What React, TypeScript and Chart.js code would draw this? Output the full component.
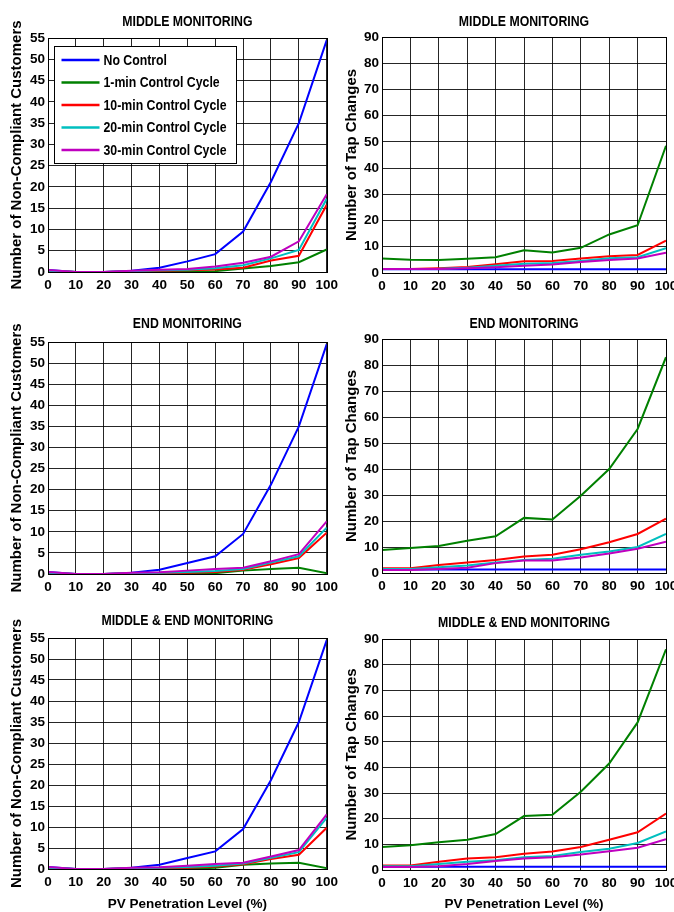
import React, { useEffect, useRef } from 'react';
import { Chart, registerables } from 'chart.js';

Chart.register(...registerables);

// ---------------- DATA ----------------
const penetration = [0, 10, 20, 30, 40, 50, 60, 70, 80, 90, 100];
const seriesLabels = ['No Control', '1-min Control Cycle', '10-min Control Cycle', '20-min Control Cycle', '30-min Control Cycle'];
const seriesColors = ['#0000ff', '#008000', '#ff0000', '#00bfbf', '#bf00bf'];

const panelTitles = ['MIDDLE MONITORING', 'MIDDLE MONITORING', 'END MONITORING', 'END MONITORING', 'MIDDLE & END MONITORING', 'MIDDLE & END MONITORING'];
const yTitleCustomers = 'Number of Non-Compliant Customers';
const yTitleTaps = 'Number of Tap Changes';
const xTitle = 'PV Penetration Level (%)';

// Middle monitoring - non-compliant customers
const midNcNoControl = [0.5, 0, 0, 0.3, 1.0, 2.5, 4.2, 9.5, 21.2, 35, 54.5];
const midNc1min = [0.2, 0, 0, 0, 0, 0, 0.2, 0.8, 1.4, 2.3, 5.3];
const midNc10min = [0.3, 0, 0, 0.2, 0.3, 0.4, 0.6, 1.0, 2.7, 3.8, 15.8];
const midNc20min = [0.3, 0, 0, 0.2, 0.4, 0.5, 0.9, 1.6, 3.2, 5.2, 17.2];
const midNc30min = [0.5, 0, 0, 0.3, 0.5, 0.7, 1.3, 2.2, 3.6, 7.2, 18.3];

// Middle monitoring - tap changes
const midTapNoControl = [1.4, 1.4, 1.4, 1.4, 1.4, 1.4, 1.4, 1.4, 1.4, 1.4, 1.4];
const midTap1min = [5.5, 5.1, 5.0, 5.4, 6.0, 8.7, 7.8, 9.6, 14.7, 18.2, 48.5];
const midTap10min = [1.5, 1.5, 1.8, 2.3, 3.3, 4.5, 4.6, 5.5, 6.4, 6.9, 12.3];
const midTap20min = [1.5, 1.5, 1.6, 2.0, 2.8, 3.5, 3.8, 4.6, 5.6, 6.0, 9.5];
const midTap30min = [1.5, 1.5, 1.5, 1.8, 2.2, 2.8, 3.2, 4.2, 5.0, 5.5, 7.7];

// End monitoring - non-compliant customers
const endNcNoControl = [0.5, 0, 0, 0.3, 1.0, 2.6, 4.2, 9.5, 21.2, 35, 54.5];
const endNc1min = [0, 0, 0, 0, 0, 0, 0.2, 0.8, 1.2, 1.5, 0.2];
const endNc10min = [0.2, 0, 0, 0.2, 0.2, 0.3, 0.5, 1.0, 2.3, 3.8, 9.8];
const endNc20min = [0.3, 0, 0, 0.2, 0.3, 0.5, 0.7, 1.2, 2.7, 4.2, 11];
const endNc30min = [0.5, 0, 0, 0.3, 0.4, 0.8, 1.2, 1.5, 3.0, 4.7, 12.5];

// End monitoring - tap changes
const endTapNoControl = [1.3, 1.3, 1.3, 1.3, 1.3, 1.3, 1.3, 1.3, 1.3, 1.3, 1.3];
const endTap1min = [8.8, 9.6, 10.4, 12.4, 14.1, 21.2, 20.6, 29.7, 40, 55.4, 83];
const endTap10min = [1.8, 1.8, 3.1, 4.0, 5.0, 6.3, 7.0, 9.1, 11.8, 15.0, 20.9];
const endTap20min = [1.5, 1.5, 2.2, 2.9, 4.0, 5.0, 5.5, 7.0, 8.3, 10.0, 15.0];
const endTap30min = [1.2, 1.2, 1.5, 2.0, 3.8, 4.8, 4.8, 6.0, 7.5, 9.3, 12.0];

// Middle & End monitoring - non-compliant customers
const bothNcNoControl = [0.5, 0, 0, 0.3, 1.0, 2.6, 4.2, 9.5, 21.2, 35, 54.5];
const bothNc1min = [0.2, 0, 0, 0, 0, 0, 0.3, 1.0, 1.3, 1.5, 0.2];
const bothNc10min = [0, 0, 0, 0.2, 0.2, 0.3, 0.6, 1.1, 2.4, 3.4, 9.8];
const bothNc20min = [0.3, 0, 0, 0.2, 0.3, 0.5, 0.8, 1.3, 2.7, 4.0, 12.2];
const bothNc30min = [0.5, 0, 0, 0.3, 0.4, 0.8, 1.2, 1.5, 3.0, 4.5, 13];

// Middle & End monitoring - tap changes
const bothTapNoControl = [1.3, 1.3, 1.3, 1.3, 1.3, 1.3, 1.3, 1.3, 1.3, 1.3, 1.3];
const bothTap1min = [9.0, 9.6, 10.8, 11.8, 14.0, 21.0, 21.5, 30.5, 41.5, 57.5, 86];
const bothTap10min = [1.8, 1.8, 3.2, 4.5, 5.0, 6.3, 7.2, 9.0, 11.8, 14.7, 22];
const bothTap20min = [1.5, 1.5, 2.3, 3.2, 3.8, 5.0, 5.5, 7.0, 8.3, 10.5, 15];
const bothTap30min = [1.2, 1.2, 1.5, 2.3, 3.5, 4.5, 5.0, 6.0, 7.3, 8.7, 12];

const customersAxisMax = 55;
const customersAxisStep = 5;
const tapsAxisMax = 90;
const tapsAxisStep = 10;

// ---------------- STYLE ----------------
const FONT = "'Liberation Sans', Arial, sans-serif";
const NARROW_SCALE = 0.82;

type PanelSpec = {
  left: number; top: number; width: number; height: number;
  padL: number; padT: number; padR: number;
  yWidth: number; xHeight: number;
  title: string; titleBaseline: number;
  yTitle: string; yTitlePad: number;
  yMax: number; yStep: number;
  series: number[][];
  legend: boolean; xTitle: boolean;
};

function narrowText(ctx: any, text: string, x: number, y: number, align: string, baseline: string) {
  ctx.save();
  ctx.translate(x, y);
  ctx.scale(NARROW_SCALE, 1);
  ctx.textAlign = align;
  ctx.textBaseline = baseline;
  ctx.fillText(text, 0, 0);
  ctx.restore();
}

const panelDecor = {
  id: 'panelDecor',
  afterDatasetsDraw(chart: any, _args: any, opts: any) {
    if (!opts.legend) return;
    const { ctx, chartArea: a } = chart;
    const bx = Math.round(a.left + 6) + 0.5;
    const by = Math.round(a.top + 8) + 0.5;
    const bw = 182;
    const bh = 117;
    ctx.save();
    ctx.fillStyle = '#ffffff';
    ctx.fillRect(bx, by, bw, bh);
    ctx.strokeStyle = '#000000';
    ctx.lineWidth = 1;
    ctx.strokeRect(bx, by, bw, bh);
    ctx.font = `bold 15px ${FONT}`;
    chart.data.datasets.forEach((ds: any, i: number) => {
      const cy = by + 13.5 + i * 22.5;
      ctx.strokeStyle = ds.borderColor;
      ctx.lineWidth = 2.5;
      ctx.beginPath();
      ctx.moveTo(bx + 7, cy);
      ctx.lineTo(bx + 45, cy);
      ctx.stroke();
      ctx.fillStyle = '#000000';
      narrowText(ctx, ds.label, bx + 49, cy + 0.5, 'left', 'middle');
    });
    ctx.restore();
  },
  afterDraw(chart: any, _args: any, opts: any) {
    const { ctx, chartArea: a } = chart;
    ctx.save();
    ctx.strokeStyle = '#000000';
    ctx.lineWidth = 1;
    ctx.strokeRect(Math.round(a.left) + 0.5, Math.round(a.top) + 0.5, Math.round(a.right - a.left), Math.round(a.bottom - a.top));
    ctx.fillStyle = '#000000';
    ctx.font = `bold 15px ${FONT}`;
    narrowText(ctx, opts.title, (a.left + a.right) / 2, opts.titleBaseline, 'center', 'alphabetic');
    ctx.restore();
  },
};

function Panel({ spec }: { spec: PanelSpec }) {
  const ref = useRef<HTMLCanvasElement | null>(null);
  useEffect(() => {
    if (!ref.current) return;
    const order = [4, 3, 2, 1, 0];
    const chart = new Chart(ref.current, {
      type: 'line',
      data: {
        datasets: spec.series.map((vals, i) => ({
          label: seriesLabels[i],
          data: penetration.map((x, j) => ({ x, y: vals[j] })),
          borderColor: seriesColors[i],
          backgroundColor: seriesColors[i],
          borderWidth: 2,
          pointRadius: 0,
          tension: 0,
          fill: false,
          order: order[i],
        })),
      },
      options: {
        animation: false,
        responsive: false,
        maintainAspectRatio: false,
        layout: { padding: { left: spec.padL, top: spec.padT, right: spec.padR, bottom: 0 } },
        plugins: {
          legend: { display: false },
          tooltip: { enabled: false },
          title: { display: false },
          panelDecor: { title: spec.title, titleBaseline: spec.titleBaseline, legend: spec.legend },
        } as any,
        scales: {
          x: {
            type: 'linear',
            min: 0,
            max: 100,
            afterFit: (s: any) => { s.height = spec.xHeight; },
            ticks: { stepSize: 10, autoSkip: false, maxRotation: 0, padding: 5, color: '#000', font: { family: FONT, size: 13.5, weight: 'bold' } },
            grid: { color: 'rgba(0,0,0,0.85)', lineWidth: 1, drawTicks: false },
            border: { display: true, color: '#000', width: 1 },
            title: {
              display: spec.xTitle,
              text: xTitle,
              color: '#000',
              font: { family: FONT, size: 13.5, weight: 'bold', lineHeight: 1 },
              padding: { top: 0, bottom: 1 },
            },
          },
          y: {
            type: 'linear',
            min: 0,
            max: spec.yMax,
            afterFit: (s: any) => { s.width = spec.yWidth; },
            ticks: { stepSize: spec.yStep, autoSkip: false, padding: 3, color: '#000', font: { family: FONT, size: 13.5, weight: 'bold' } },
            grid: { color: 'rgba(0,0,0,0.85)', lineWidth: 1, drawTicks: false },
            border: { display: true, color: '#000', width: 1 },
            title: {
              display: true,
              text: spec.yTitle,
              color: '#000',
              font: { family: FONT, size: 15, weight: 'bold', lineHeight: 1.2 },
              padding: { top: spec.yTitlePad, bottom: 0 },
            },
          },
        },
      },
      plugins: [panelDecor as any],
    });
    return () => chart.destroy();
  }, [spec]);
  return (
    <canvas
      ref={ref}
      width={spec.width}
      height={spec.height}
      style={{ position: 'absolute', left: spec.left, top: spec.top, width: spec.width, height: spec.height }}
    />
  );
}

const panels: PanelSpec[] = [
  { left: 0, top: 0, width: 343, height: 298, padL: 0, padT: 38, padR: 12, yWidth: 48, xHeight: 26,
    title: panelTitles[0], titleBaseline: 26, yTitle: yTitleCustomers, yTitlePad: 8, yMax: customersAxisMax, yStep: customersAxisStep,
    series: [midNcNoControl, midNc1min, midNc10min, midNc20min, midNc30min], legend: true, xTitle: false },
  { left: 343, top: 0, width: 347, height: 298, padL: 0, padT: 37, padR: 24, yWidth: 39, xHeight: 25,
    title: panelTitles[1], titleBaseline: 26, yTitle: yTitleTaps, yTitlePad: 0, yMax: tapsAxisMax, yStep: tapsAxisStep,
    series: [midTapNoControl, midTap1min, midTap10min, midTap20min, midTap30min], legend: false, xTitle: false },
  { left: 0, top: 298, width: 343, height: 300, padL: 0, padT: 44, padR: 12, yWidth: 48, xHeight: 24,
    title: panelTitles[2], titleBaseline: 30, yTitle: yTitleCustomers, yTitlePad: 8, yMax: customersAxisMax, yStep: customersAxisStep,
    series: [endNcNoControl, endNc1min, endNc10min, endNc20min, endNc30min], legend: false, xTitle: false },
  { left: 343, top: 298, width: 347, height: 300, padL: 0, padT: 41, padR: 24, yWidth: 39, xHeight: 25,
    title: panelTitles[3], titleBaseline: 30, yTitle: yTitleTaps, yTitlePad: 0, yMax: tapsAxisMax, yStep: tapsAxisStep,
    series: [endTapNoControl, endTap1min, endTap10min, endTap20min, endTap30min], legend: false, xTitle: false },
  { left: 0, top: 598, width: 343, height: 314, padL: 0, padT: 40, padR: 12, yWidth: 48, xHeight: 43,
    title: panelTitles[4], titleBaseline: 27, yTitle: yTitleCustomers, yTitlePad: 8, yMax: customersAxisMax, yStep: customersAxisStep,
    series: [bothNcNoControl, bothNc1min, bothNc10min, bothNc20min, bothNc30min], legend: false, xTitle: true },
  { left: 343, top: 598, width: 347, height: 314, padL: 0, padT: 41, padR: 24, yWidth: 39, xHeight: 42,
    title: panelTitles[5], titleBaseline: 28.5, yTitle: yTitleTaps, yTitlePad: 0, yMax: tapsAxisMax, yStep: tapsAxisStep,
    series: [bothTapNoControl, bothTap1min, bothTap10min, bothTap20min, bothTap30min], legend: false, xTitle: true },
];

export default function App() {
  return (
    <div style={{ position: 'fixed', left: 0, top: 0, width: 674, height: 912, overflow: 'hidden', background: '#ffffff' }}>
      {panels.map((p, i) => (
        <Panel key={i} spec={p} />
      ))}
    </div>
  );
}
